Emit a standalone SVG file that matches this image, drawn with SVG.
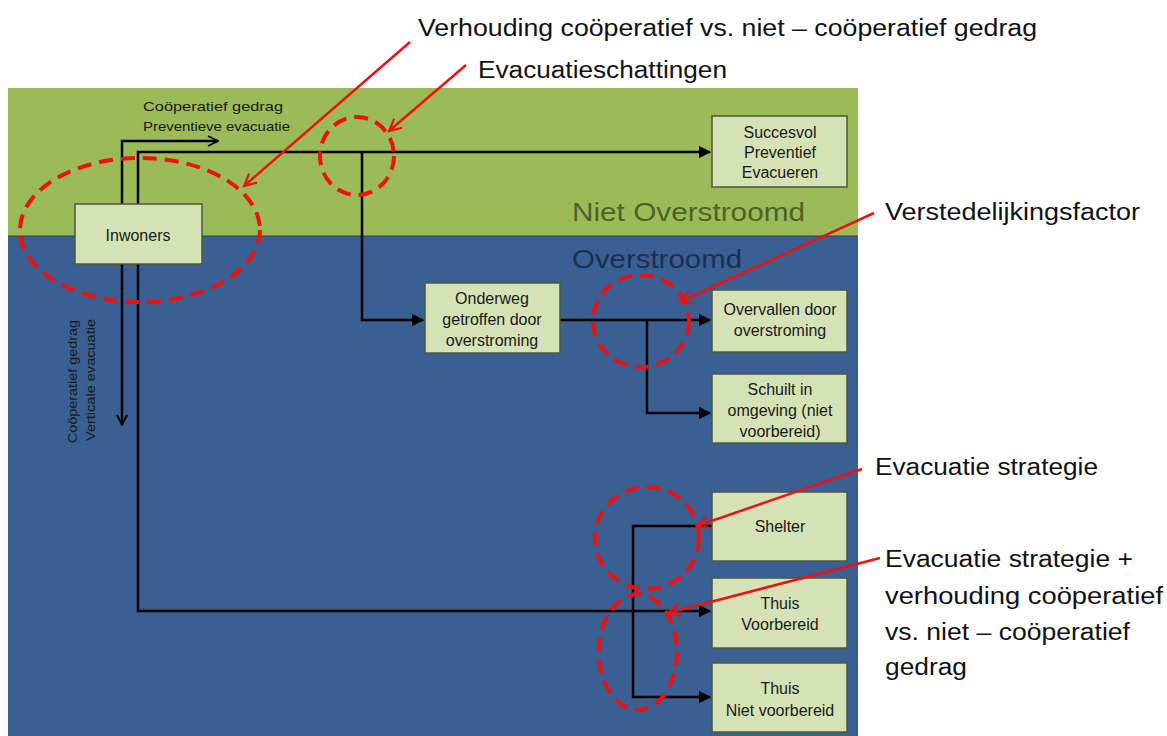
<svg xmlns="http://www.w3.org/2000/svg" width="1167" height="736" viewBox="0 0 1167 736">
<defs>
<style>
.box{fill:#d4e2b6;stroke:#4b5a3c;stroke-width:1.5}
.bt{font-family:"Liberation Sans","Noto Sans",sans-serif;font-size:16px;fill:#1a1a1a;text-anchor:middle;dominant-baseline:central}
.ann{font-family:"Liberation Sans","Noto Sans",sans-serif;font-size:23px;fill:#111}
.small{font-family:"Liberation Sans","Noto Sans",sans-serif;font-size:13px;fill:#1a1a1a}
.conn{fill:none;stroke:#000;stroke-width:2.5}
.red{fill:none;stroke:#f01010;stroke-width:4;stroke-dasharray:14 8}
.rarrow{fill:none;stroke:#f01010;stroke-width:2.5}
</style>
<marker id="tri" viewBox="0 0 10 10" refX="9" refY="5" markerWidth="5" markerHeight="5" orient="auto" markerUnits="strokeWidth">
<path d="M0,0 L10,5 L0,10 z" fill="#000"/>
</marker>
<marker id="chev" viewBox="0 0 10 10" refX="9" refY="5" markerWidth="5" markerHeight="5" orient="auto" markerUnits="strokeWidth">
<path d="M1,1 L9,5 L1,9" fill="none" stroke="#000" stroke-width="1.5"/>
</marker>
<marker id="rhead" viewBox="0 0 10 10" refX="9" refY="5" markerWidth="6" markerHeight="6" orient="auto" markerUnits="strokeWidth">
<path d="M1,1 L9,5 L1,9" fill="none" stroke="#f01010" stroke-width="1.5"/>
</marker>
</defs>
<rect width="1167" height="736" fill="#fff"/>
<g id="background">
<rect x="8" y="88" width="850" height="148" fill="#9bbb59"/>
<rect x="8" y="236" width="850" height="500" fill="#3a5f92"/>
<line x1="8" y1="236" x2="858" y2="236" stroke="#2a3f5a" stroke-width="1"/>
<text x="572" y="221" font-family="'Liberation Sans','Noto Sans',sans-serif" font-size="25" fill="#4f6228" textLength="233" lengthAdjust="spacingAndGlyphs">Niet Overstroomd</text>
<text x="572" y="268" font-family="'Liberation Sans','Noto Sans',sans-serif" font-size="25" fill="#1c2f52" textLength="170" lengthAdjust="spacingAndGlyphs">Overstroomd</text>
</g>
<g id="connectors">
<polyline class="conn" points="122,204 122,141 218,141" marker-end="url(#chev)"/>
<polyline class="conn" points="138,204 138,152 710,152" marker-end="url(#tri)"/>
<polyline class="conn" points="362,152 362,320 423,320" marker-end="url(#tri)"/>
<polyline class="conn" points="560,320 710,320" marker-end="url(#tri)"/>
<polyline class="conn" points="647,320 647,413 710,413" marker-end="url(#tri)"/>
<polyline class="conn" points="122,264 122,425" marker-end="url(#chev)"/>
<polyline class="conn" points="138,264 138,611 710,611" marker-end="url(#tri)"/>
<polyline class="conn" points="712,526 633,526 633,697 710,697" marker-end="url(#tri)"/>
<text class="small" x="143" y="111" textLength="140" lengthAdjust="spacingAndGlyphs">Coöperatief gedrag</text>
<text class="small" x="143" y="131" textLength="147" lengthAdjust="spacingAndGlyphs">Preventieve evacuatie</text>
<text class="small" transform="translate(77,443) rotate(-90)" textLength="123" lengthAdjust="spacingAndGlyphs">Coöperatief gedrag</text>
<text class="small" transform="translate(95,441) rotate(-90)" textLength="122" lengthAdjust="spacingAndGlyphs">Verticale evacuatie</text>
</g>
<g id="inwoners"><rect class="box" x="75" y="204" width="127" height="60"/><text class="bt" x="138" y="235">Inwoners</text></g>
<g id="succesvol"><rect class="box" x="712" y="116" width="135" height="71"/><text class="bt" x="780" y="132">Succesvol</text><text class="bt" x="780" y="152">Preventief</text><text class="bt" x="780" y="172">Evacueren</text></g>
<g id="onderweg"><rect class="box" x="425" y="283" width="135" height="70"/><text class="bt" x="492" y="298">Onderweg</text><text class="bt" x="492" y="319">getroffen door</text><text class="bt" x="492" y="340">overstroming</text></g>
<g id="overvallen"><rect class="box" x="712" y="290" width="135" height="62"/><text class="bt" x="780" y="309">Overvallen door</text><text class="bt" x="780" y="330">overstroming</text></g>
<g id="schuilt"><rect class="box" x="712" y="374" width="135" height="69"/><text class="bt" x="780" y="389">Schuilt in</text><text class="bt" x="780" y="410">omgeving (niet</text><text class="bt" x="780" y="431">voorbereid)</text></g>
<g id="shelter"><rect class="box" x="712" y="492" width="135" height="69"/><text class="bt" x="780" y="526">Shelter</text></g>
<g id="thuis-voorbereid"><rect class="box" x="712" y="578" width="135" height="70"/><text class="bt" x="780" y="603">Thuis</text><text class="bt" x="780" y="624">Voorbereid</text></g>
<g id="thuis-niet"><rect class="box" x="712" y="663" width="135" height="69"/><text class="bt" x="780" y="688">Thuis</text><text class="bt" x="780" y="710">Niet voorbereid</text></g>
<g id="annotations">
<ellipse class="red" cx="140" cy="230" rx="120" ry="72"/>
<ellipse class="red" cx="357" cy="156" rx="37" ry="39"/>
<ellipse class="red" cx="641" cy="321" rx="48" ry="46"/>
<ellipse class="red" cx="647" cy="538" rx="52" ry="51"/>
<ellipse class="red" cx="638" cy="652" rx="39" ry="58"/>
<line class="rarrow" x1="410" y1="42" x2="244" y2="186" marker-end="url(#rhead)"/>
<line class="rarrow" x1="466" y1="65" x2="389" y2="131" marker-end="url(#rhead)"/>
<line class="rarrow" x1="874" y1="213" x2="680" y2="302" marker-end="url(#rhead)"/>
<line class="rarrow" x1="862" y1="469" x2="697" y2="526" marker-end="url(#rhead)"/>
<line class="rarrow" x1="880" y1="558" x2="668" y2="613" marker-end="url(#rhead)"/>
<text class="ann" x="418" y="36" textLength="619" lengthAdjust="spacingAndGlyphs">Verhouding coöperatief vs. niet – coöperatief gedrag</text>
<text class="ann" x="478" y="78" textLength="249" lengthAdjust="spacingAndGlyphs">Evacuatieschattingen</text>
<text class="ann" x="885" y="220" textLength="255" lengthAdjust="spacingAndGlyphs">Verstedelijkingsfactor</text>
<text class="ann" x="875" y="475" textLength="223" lengthAdjust="spacingAndGlyphs">Evacuatie strategie</text>
<text class="ann" x="885" y="567" textLength="248" lengthAdjust="spacingAndGlyphs">Evacuatie strategie +</text>
<text class="ann" x="885" y="604" textLength="278" lengthAdjust="spacingAndGlyphs">verhouding coöperatief</text>
<text class="ann" x="885" y="640" textLength="245" lengthAdjust="spacingAndGlyphs">vs. niet – coöperatief</text>
<text class="ann" x="885" y="675" textLength="82" lengthAdjust="spacingAndGlyphs">gedrag</text>
</g>
</svg>
